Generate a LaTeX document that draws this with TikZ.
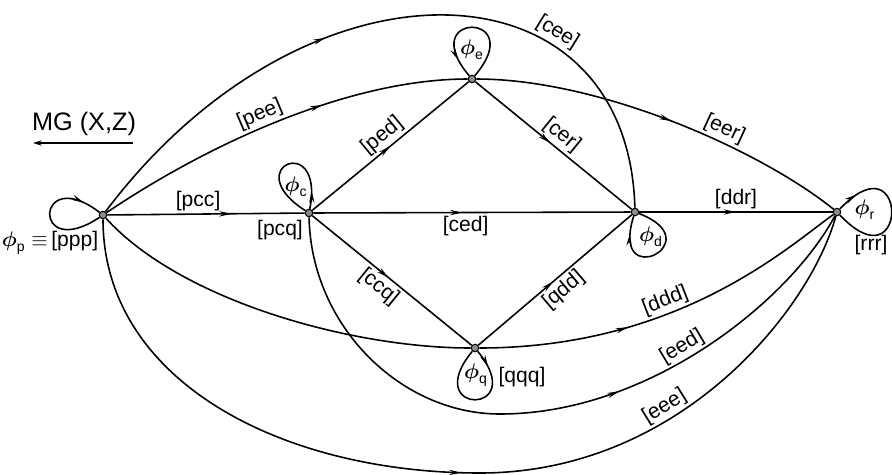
\documentclass[tikz,border=0pt]{standalone}
\usepackage{amsmath}
\usepackage{amssymb}
\usepackage{fontspec}
\setmainfont{Liberation Sans}
\usepackage{tikz}
\usetikzlibrary{arrows.meta, decorations.markings}

\begin{document}
\begin{tikzpicture}[x=0.02cm, y=-0.02cm, line width=0.9pt,
    sommet/.style={circle, draw, fill=black!45, inner sep=0pt, minimum size=1.5mm, line width=0.6pt},
    etiq/.style={font=\large, inner sep=1.5pt},
    lettre/.style={font=\large, inner sep=0pt},
    fleche/.style={postaction={decorate}, decoration={markings,
        mark=at position #1 with {\arrow{Stealth[length=7pt, width=3pt]}}}},
    fleche/.default=0.5]
    \useasboundingbox (0,0) rectangle (892,474);

    % --- Sommets ---
    \node[sommet] (p) at (103,215) {};
    \node[sommet] (c) at (309,213) {};
    \node[sommet] (e) at (472,79) {};
    \node[sommet] (d) at (635,212) {};
    \node[sommet] (q) at (475,348) {};
    \node[sommet] (r) at (837,212) {};

    % --- Titre ---
    \node[font=\Large] (titre) at (84,124) {MG (X,Z)};
    \coordinate (td) at (133,143);
    \coordinate (tg) at (33,143);
    \draw[-{Stealth[length=5pt, width=3pt]}, line width=1.1pt] (td) -- (tg);

    % --- Aretes droites ---
    \draw[fleche=0.63] (p) -- node[etiq, above, pos=0.46] {[pcc]} (c);
    \draw[fleche] (c) -- node[etiq, above, sloped] {[ped]} (e);
    \draw[fleche=0.48] (e) -- node[etiq, above, sloped] {[cer]} (d);
    \draw[fleche=0.47] (c) -- node[etiq, below, pos=0.48] {[ced]} (d);
    \draw[fleche=0.48] (c) -- node[etiq, below, sloped, pos=0.47] {[ccq]} (q);
    \draw[fleche=0.49] (q) -- node[etiq, below, sloped] {[qdd]} (d);
    \draw[fleche] (d) -- node[etiq, above] {[ddr]} (r);

    % --- Arcs du haut ---
    \draw[fleche=0.4] (p) .. controls (306,-55) and (628,-45) .. (d)
        node[etiq, above, sloped, pos=0.69] {[cee]};
    \draw[fleche=0.62] (p) .. controls (213,141) and (352,79) .. (e)
        node[etiq, above, sloped, pos=0.45] {[pee]};
    \draw[fleche=0.52] (e) .. controls (600,79) and (760,150) .. (r)
        node[etiq, above, sloped, pos=0.62] {[eer]};

    % --- Arcs du bas ---
    \draw (p) .. controls (180,300) and (350,348) .. (q);
    \draw[fleche=0.39] (q) .. controls (680,348) and (790,245) .. (r)
        node[etiq, above, sloped, pos=0.38] {[ddd]};
    \draw[fleche=0.6] (c) .. controls (311,325) and (400,414) .. (500,414)
        .. controls (650,414) and (790,300) .. (r)
        node[etiq, above, sloped, pos=0.45] {[eed]};
    \draw[fleche=0.5] (p) .. controls (103,380) and (280,473) .. (480,473)
        .. controls (680,473) and (810,310) .. (r)
        node[etiq, above, sloped, pos=0.37] {[eee]};

    % --- Boucles ---
    \draw[fleche=0.85] (p) .. controls +(-72,48) and +(-68,-52) .. (p);
    \draw[fleche=0.15] (c) .. controls +(16,-82) and +(-72,-46) .. (c);
    \draw[fleche=0.85] (e) .. controls +(58,-68) and +(-58,-68) .. (e);
    \draw[fleche=0.85] (d) .. controls +(78,30) and +(-26,82) .. (d);
    \draw[fleche=0.15] (q) .. controls +(56,68) and +(-56,68) .. (q);
    \draw[fleche=0.15] (r) .. controls +(72,-76) and +(72,76) .. (r);

    % --- Etiquettes des sommets ---
    \node[lettre] (phic) at (296,187) {$\boldsymbol{\phi}_{\text{c}}$};
    \node[lettre] (phie) at (472,50) {$\boldsymbol{\phi}_{\text{e}}$};
    \node[lettre] (phid) at (651,237) {$\boldsymbol{\phi}_{\text{d}}$};
    \node[lettre] (phiq) at (476,375) {$\boldsymbol{\phi}_{\text{q}}$};
    \node[lettre] (phir) at (865,210) {$\boldsymbol{\phi}_{\text{r}}$};
    \node[etiq] (phip) at (50,243) {$\boldsymbol{\phi}_{\text{p}}\equiv$\,[ppp]};
    \node[etiq] (pcq) at (280,230) {[pcq]};
    \node[etiq] (rrr) at (871,245) {[rrr]};
    \node[etiq] (qqq) at (522,377) {[qqq]};
\end{tikzpicture}
\end{document}
